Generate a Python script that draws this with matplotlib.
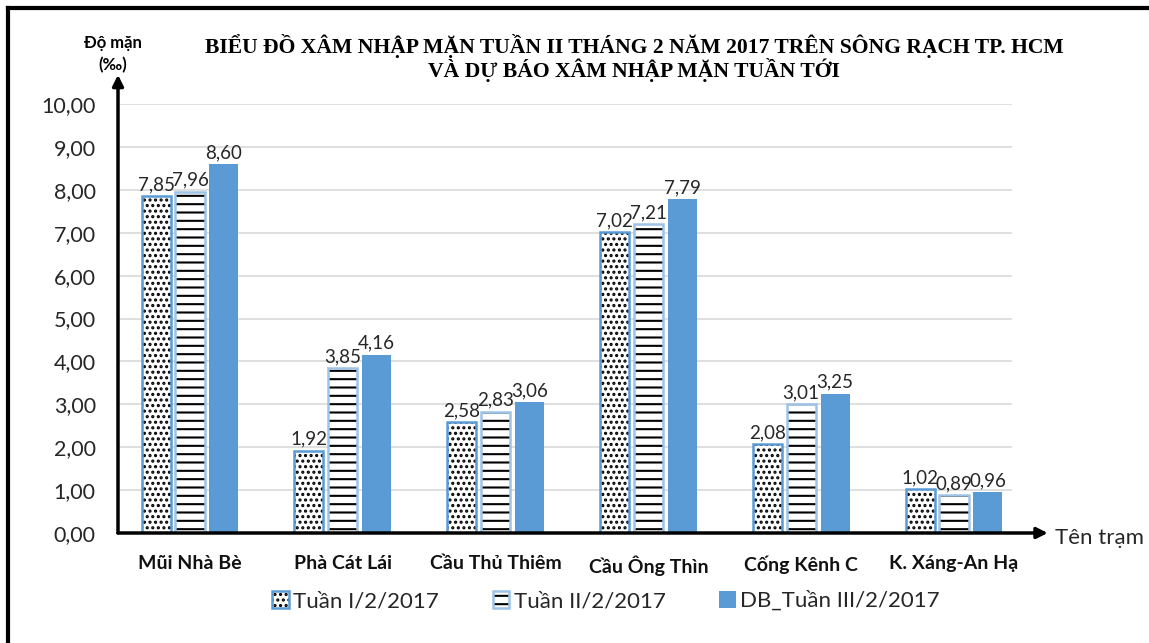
import numpy as np
import matplotlib
matplotlib.use('Agg')
import matplotlib.pyplot as plt
from matplotlib.lines import Line2D
from matplotlib.legend_handler import HandlerTuple

stations = ['Mũi Nhà Bè', 'Phà Cát Lái', 'Cầu Thủ Thiêm', 'Cầu Ông Thìn', 'Cống Kênh C', 'K. Xáng-An Hạ']
tuan1 = [7.85, 1.92, 2.58, 7.02, 2.08, 1.02]
tuan2 = [7.96, 3.85, 2.83, 7.21, 3.01, 0.89]
tuan3 = [8.60, 4.16, 3.06, 7.79, 3.25, 0.96]
series_names = ['Tuần I/2/2017', 'Tuần II/2/2017', 'DB_Tuần III/2/2017']
yticks = [0, 1, 2, 3, 4, 5, 6, 7, 8, 9, 10]

plt.rcParams['font.family'] = ['Lato', 'DejaVu Sans']
plt.rcParams['hatch.linewidth'] = 1.5

fig = plt.figure(figsize=(11.49, 6.43), dpi=100)
ax = fig.add_axes([118/1149, 1-533/643, (1012-118)/1149, (533-104)/643])

x = np.arange(len(stations))
w = 0.19
step = 0.222
blue = '#5B9BD5'
light = '#9DC3E6'

# hatched layers (hatch colour = edgecolor), then outlines on top
h1 = ax.bar(x - step, tuan1, w, facecolor='white', edgecolor='black', hatch='...', linewidth=0, zorder=2)
o1 = ax.bar(x - step, tuan1, w, fill=False, edgecolor=blue, linewidth=1.8, zorder=3)
h2 = ax.bar(x, tuan2, w, facecolor='white', edgecolor='black', hatch='--', linewidth=0, zorder=2)
o2 = ax.bar(x, tuan2, w, fill=False, edgecolor=light, linewidth=1.8, zorder=3)
b3 = ax.bar(x + step, tuan3, w, color=blue, zorder=2)

for cont, vals in [(o1, tuan1), (o2, tuan2), (b3, tuan3)]:
    ax.bar_label(cont, labels=[f'{v:.2f}'.replace('.', ',') for v in vals],
                 padding=2, fontsize=13.5, color='#262626')

ax.set_ylim(0, 10)
ax.set_xlim(-(190-118)/152.8, 5 + (1012-954)/152.8)
ax.set_yticks(yticks)
ax.set_yticklabels([f'{v:.2f}'.replace('.', ',') for v in yticks], fontsize=15.5, color='#262626')
ax.set_xticks(x)
ax.set_xticklabels(stations, fontsize=14, fontweight='bold', color='#111111')
ax.tick_params(axis='y', length=0, pad=16)
ax.tick_params(axis='x', length=0, pad=16)
ax.grid(axis='y', color='#D9D9D9', linewidth=1.2, zorder=0)
ax.set_axisbelow(True)
for s in ax.spines.values():
    s.set_visible(False)

# axis arrows
ax.annotate('', xy=(1.04, 0), xytext=(0, 0), xycoords='axes fraction',
            arrowprops=dict(arrowstyle='-|>', color='black', lw=2.5, mutation_scale=16,
                            shrinkA=0, shrinkB=0), annotation_clip=False)
ax.annotate('', xy=(0, 1.068), xytext=(0, 0), xycoords='axes fraction',
            arrowprops=dict(arrowstyle='-|>', color='black', lw=2.5, mutation_scale=16,
                            shrinkA=0, shrinkB=0), annotation_clip=False)

fig.text(1055/1149, 1-538/643, 'Tên trạm', fontsize=16, color='#262626', va='center', ha='left')
fig.text(113/1149, 1-54/643, 'Độ mặn\n(‰)', fontsize=12, fontweight='bold', ha='center',
         va='center', linespacing=1.5)

fig.text(634/1149, 1-58/643,
         'BIỂU ĐỒ XÂM NHẬP MẶN TUẦN II THÁNG 2 NĂM 2017 TRÊN SÔNG RẠCH TP. HCM\nVÀ DỰ BÁO XÂM NHẬP MẶN TUẦN TỚI',
         family=['Liberation Serif', 'DejaVu Serif'], fontsize=15.6, fontweight='bold',
         ha='center', va='center', linespacing=1.0)

leg = ax.legend([(h1, o1), (h2, o2), b3], series_names, handler_map={tuple: HandlerTuple(ndivide=1)},
                loc='center', bbox_to_anchor=((606-118)/894, 1 - (601-104)/429), ncol=3, frameon=False,
                fontsize=16, handlelength=0.75, handleheight=0.75, handletextpad=0.2,
                columnspacing=2.4)
for t in leg.get_texts():
    t.set_color('#262626')

# outer frame (top and left edge visible)
fig.add_artist(Line2D([8/1149, 1], [1-8/643, 1-8/643], transform=fig.transFigure, color='black', lw=3))
fig.add_artist(Line2D([8/1149, 8/1149], [0, 1-8/643], transform=fig.transFigure, color='black', lw=3))

fig.savefig('out.png', dpi=100)
